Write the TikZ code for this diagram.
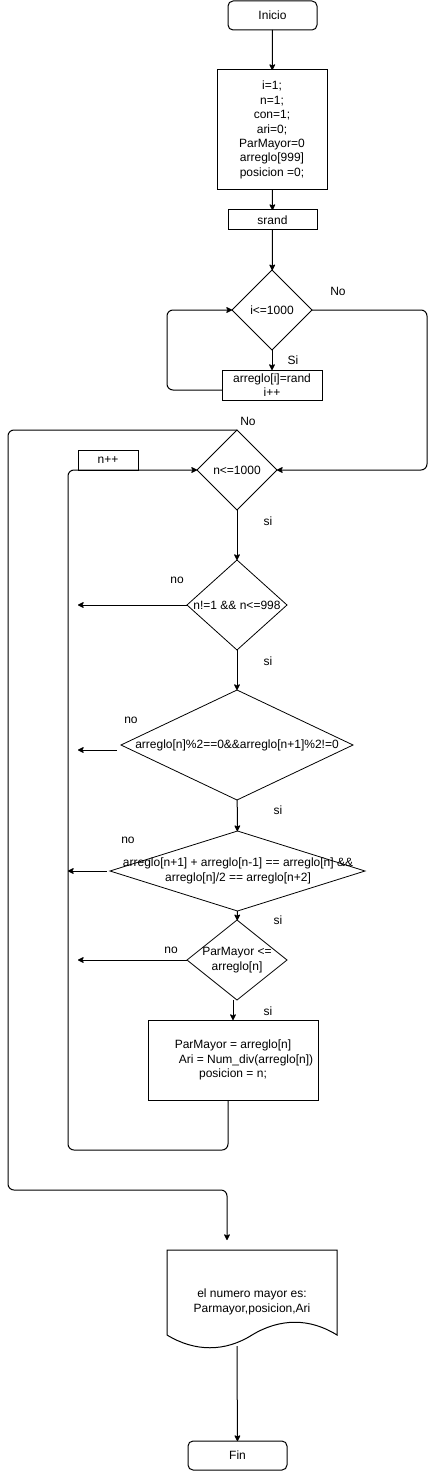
\documentclass[tikz,border=0pt]{standalone}
\usepackage{fontspec}
\setmainfont{Liberation Sans}
\usetikzlibrary{shapes.geometric,arrows.meta}
\begin{document}
\begin{tikzpicture}[x=1pt,y=-1pt,
  every node/.style={font=\fontsize{12}{14.4}\selectfont, inner sep=0pt, outer sep=0pt},
  box/.style={draw, line width=1pt, align=center},
  rbox/.style={draw, line width=1pt, rounded corners=5pt, align=center},
  dia/.style={draw, diamond, line width=0.8pt},
  txt/.style={align=center},
  ar/.style={draw, line width=1pt, rounded corners=6pt, -{Stealth[length=7pt,width=7pt,inset=2pt,round]}},
  ln/.style={draw, line width=1pt, rounded corners=6pt}
]
\useasboundingbox (0,0) rectangle (436,1471);

% nodes
\node[rbox, minimum width=89pt, minimum height=29pt] (start) at (272.5,15.5) {Inicio};
\node[box, minimum width=110pt, minimum height=120pt] (init) at (272,130) {i=1;\\n=1;\\con=1;\\ari=0;\\ParMayor=0\\arreglo[999]\\posicion =0;};
\node[box, minimum width=89pt, minimum height=20pt] (srand) at (272.5,220) {srand};
\node[dia, minimum width=80pt, minimum height=80pt] (d1) at (272,310) {};
\node[txt] (d1t) at (d1) {i<=1000};
\node[box, minimum width=100pt, minimum height=30pt] (body1) at (272,385) {arreglo[i]=rand\\i++};
\node[dia, minimum width=80pt, minimum height=80pt] (d2) at (237,470) {};
\node[txt] (d2t) at (d2) {n<=1000};
\node[box, minimum width=60pt, minimum height=20pt] (ninc) at (108,460) {n++};
\node[dia, minimum width=100pt, minimum height=90pt] (d3) at (237,605) {};
\node[txt] (d3t) at (d3) {n!=1 \&\& n<=998};
\node[dia, minimum width=232pt, minimum height=110pt] (d4) at (237,745) {};
\node[txt] (d4t) at (d4) {arreglo[n]\%2==0\&\&arreglo[n+1]\%2!=0};
\node[dia, minimum width=255pt, minimum height=80pt] (d5) at (237.5,871) {};
\node[txt] (d5t) at (238,871) {arreglo[n+1] + arreglo[n-1] == arreglo[n] \&\&\\arreglo[n]/2 == arreglo[n+2]};
\node[dia, minimum width=100pt, minimum height=80pt] (d6) at (237,960) {};
\node[txt] (d6t) at (d6) {ParMayor <=\\arreglo[n]};
\node[box, minimum width=170pt, minimum height=80pt] (res) at (233,1060) {ParMayor = arreglo[n]\\\hspace*{26pt}Ari = Num\_div(arreglo[n])\\posicion = n;};
\node[minimum width=170pt, minimum height=85pt] (doc) at (252,1292.5) {};
\draw[line width=1pt] (doc.south west) -- (doc.north west) -- (doc.north east) -- (doc.south east)
  .. controls (310,1318) and (280,1318) .. (252,1335)
  .. controls (225,1352) and (195,1352) .. (doc.south west);
\node[txt] (doct) at (252,1302) {el numero mayor es:\\Parmayor,posicion,Ari};
\node[rbox, minimum width=99pt, minimum height=29pt] (fin) at (237.5,1455.5) {Fin};

% coordinates
\coordinate (c227) at (227,0);
\coordinate (c228) at (228,0);
\coordinate (e3) at (78,605);
\coordinate (e4s) at (117,750);
\coordinate (e4) at (78,750);
\coordinate (e5s) at (107,871);
\coordinate (e5) at (68,871);
\coordinate (e6) at (78,960);
\coordinate (docout) at (237,1346);

% connectors
\draw[ar] (start) -- (init);
\draw[ar] (init) -- (srand);
\draw[ar] (srand) -- (d1);
\draw[ar] (d1) -- (body1);
\draw[ar] ([yshift=-5pt]body1.west) -| (167,310) -- (d1.west);
\draw[ar] (d1.east) -| (427,470) -- (d2.east);
\draw[ar, shorten >=10pt] (d2.north) -| (8,1190) -| (doc.north -| c227);
\draw[ar] (res.south -| c228) |- (68,1150) |- (d2.west);
\draw[ar] (d2) -- (d3);
\draw[ar] (d3) -- (d4);
\draw[ar] (d4) -- (d5);
\draw[ar] (d5) -- (d6);
\draw[ar] (d6.south -| res.north) -- (res.north);
\draw[ar] (d3.west) -- (e3);
\draw[ar] (e4s) -- (e4);
\draw[ar] (e5s) -- (e5);
\draw[ar] (d6.west) -- (e6);
\draw[ar] (docout) -- (fin);

% labels
\node at (338,291) {No};
\node at (293,360) {Si};
\node at (248,421) {No};
\node at (268,521) {si};
\node at (177,580) {no};
\node at (268,661) {si};
\node at (131,720) {no};
\node at (278,810) {si};
\node at (128,840) {no};
\node at (278,920) {si};
\node at (171,950) {no};
\node at (268,1011) {si};
\end{tikzpicture}
\end{document}
